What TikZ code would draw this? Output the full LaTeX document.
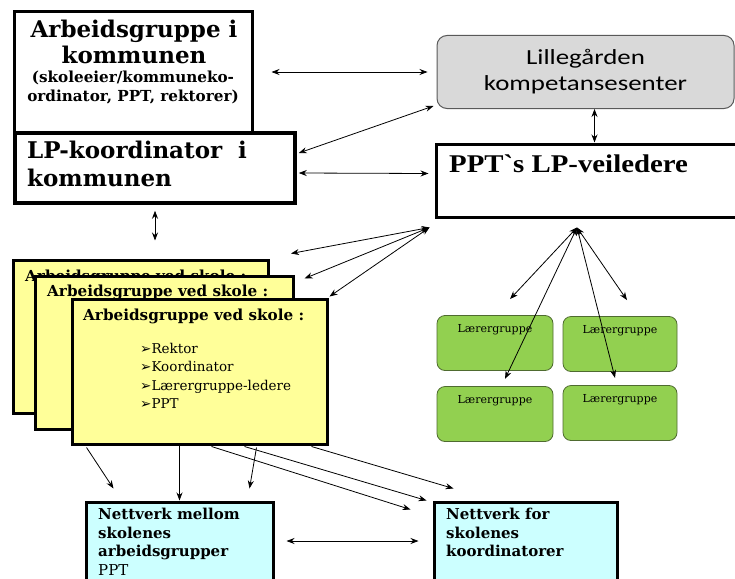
\documentclass[tikz,border=0pt]{standalone}
\usepackage{fontspec}
\setmainfont{DejaVu Serif}
\newfontfamily\timesfont{Liberation Serif}[FakeStretch=1.13]
\newfontfamily\calibrifont{Carlito}[FakeStretch=1.25]
\newfontfamily\symbolfont{DejaVu Sans}
\usepackage{xcolor}
\usetikzlibrary{shapes.geometric, arrows, arrows.meta, positioning, calc}

\definecolor{sentergray}{HTML}{D9D9D9}
\definecolor{sentergrayline}{HTML}{595959}
\definecolor{skoleyellow}{HTML}{FFFF99}
\definecolor{laerergreen}{HTML}{92D050}
\definecolor{laererline}{HTML}{4F6B30}
\definecolor{nettcyan}{HTML}{CCFFFF}

\begin{document}
\begin{tikzpicture}[x=1pt, y=-1pt]
    \tikzstyle{blackbox} = [rectangle, draw=black, line width=3pt, fill=white]
    \tikzstyle{senter} = [rectangle, rounded corners=10pt, draw=sentergrayline, line width=1pt, fill=sentergray, align=center, font=\calibrifont\fontsize{21.5}{26}\selectfont]
    \tikzstyle{skole} = [rectangle, draw=black, line width=3pt, fill=skoleyellow, minimum width=255, minimum height=153]
    \tikzstyle{laerer} = [rectangle, rounded corners=8pt, draw=laererline, line width=0.8pt, fill=laerergreen, minimum width=116, minimum height=55]
    \tikzstyle{nettverk} = [rectangle, draw=black, line width=3pt, fill=nettcyan, minimum width=187, minimum height=100]
    \tikzstyle{tekst} = [inner sep=0pt, align=left]
    \tikzstyle{arrow} = [line width=0.8pt, <->, >={Stealth[length=8pt,width=6pt]}]
    \tikzstyle{onearrow} = [line width=0.8pt, ->, >={Stealth[length=8pt,width=6pt]}]

    \clip (0,0) rectangle (735,578);
    \fill[white] (0,0) rectangle (735,578);

    % kommune
    \node[blackbox, minimum width=238, minimum height=120] (kommune) at (133,72) {};
    \node[tekst, align=center, anchor=north, font=\bfseries\fontsize{23}{26}\selectfont] (kommunetittel) at (134,20) {Arbeidsgruppe i\\kommunen};
    \node[tekst, align=center, anchor=north, font=\bfseries\fontsize{15.2}{18.5}\selectfont] (kommunesub) at (133,71) {(skoleeier/kommuneko-\\ordinator, PPT, rektorer)};

    \node[blackbox, line width=3.5pt, minimum width=280, minimum height=70] (lp) at (155,168) {};
    \node[tekst, anchor=north west, font=\bfseries\fontsize{23}{28}\selectfont] (lptekst) at (27,141) {LP-koordinator~~i\\kommunen};

    % hoyre side
    \node[senter, minimum width=297, minimum height=73] (lille) at (585.5,72) {Lillegården\\kompetansesenter};
    \node[blackbox, minimum width=310, minimum height=73] (ppt) at (591,180.5) {};
    \node[tekst, anchor=base west, font=\timesfont\bfseries\fontsize{25.5}{30}\selectfont] (ppttekst) at (449,172) {PPT`s LP-veiledere};

    % skolene
    \node[skole] (skole1) at (141,336.5) {};
    \node[tekst, anchor=base west, font=\bfseries\fontsize{15.2}{18}\selectfont] (skole1tittel) at (25,281) {Arbeidsgruppe ved skole :};
    \node[skole, minimum width=258] (skole2) at (164,352.5) {};
    \node[tekst, anchor=base west, font=\bfseries\fontsize{15.2}{18}\selectfont] (skole2tittel) at (47,296) {Arbeidsgruppe ved skole :};
    \node[skole, minimum height=145] (skole3) at (199.5,371.5) {};
    \node[tekst, anchor=base west, font=\bfseries\fontsize{15.2}{18}\selectfont] (skole3tittel) at (83,320) {Arbeidsgruppe ved skole :};
    \node[tekst, anchor=north west, font=\fontsize{13.5}{18.4}\selectfont] (skoleliste) at (140,343) {{\symbolfont ➢}Rektor\\{\symbolfont ➢}Koordinator\\{\symbolfont ➢}Lærergruppe-ledere\\{\symbolfont ➢}PPT};

    % laerergrupper
    \node[laerer] (laerera) at (495,343) {};
    \node[laerer, minimum width=114] (laererb) at (620,344) {};
    \node[laerer] (laererc) at (495,414) {};
    \node[laerer, minimum width=114] (laererd) at (620,413) {};
    \node[tekst, font=\fontsize{11}{12}\selectfont] (laereratekst) at ($(laerera.north)+(0,15)$) {Lærergruppe};
    \node[tekst, font=\fontsize{11}{12}\selectfont] (laererbtekst) at ($(laererb.north)+(0,15)$) {Lærergruppe};
    \node[tekst, font=\fontsize{11}{12}\selectfont] (laererctekst) at ($(laererc.north)+(0,15)$) {Lærergruppe};
    \node[tekst, font=\fontsize{11}{12}\selectfont] (laererdtekst) at ($(laererd.north)+(0,15)$) {Lærergruppe};

    % nettverk
    \node[nettverk] (nett1) at (179.5,552) {};
    \node[tekst, anchor=north west, font=\fontsize{15}{18.5}\selectfont] (nett1tekst) at (98,508) {\textbf{Nettverk mellom}\\\textbf{skolenes}\\\textbf{arbeidsgrupper}\\PPT};
    \node[nettverk, minimum width=183] (nett2) at (525.5,552) {};
    \node[tekst, anchor=north west, font=\bfseries\fontsize{15}{18.5}\selectfont] (nett2tekst) at (446,508) {Nettverk for\\skolenes\\koordinatorer};

    \coordinate (pptkrok) at ([shift={(-5,9)}]ppt.south west);
    \coordinate (vifte) at ([shift={(-14,9)}]ppt.south);

    % piler
    \draw[arrow] ([xshift=18]kommune.east) -- ([xshift=-9]lille.west);
    \draw[arrow] ([shift={(2,-15)}]lp.east) -- ([shift={(-3,-3)}]lille.south west);
    \draw[arrow] ([shift={(2,5)}]lp.east) -- ([shift={(-6,-7)}]ppt.west);
    \draw[arrow] ([xshift=9]lille.south) -- ($(lille.south |- ppt.north)+(9,0)$);
    \draw[arrow] ([shift={(0,6)}]lp.south) -- ($(lp.south |- skole1.north)+(0,-18)$);

    \draw[arrow] (pptkrok) -- ([shift={(21,-5)}]skole1.north east);
    \draw[arrow] (pptkrok) -- ([shift={(10,4)}]skole2.north east);
    \draw[arrow] (pptkrok) -- ([shift={(1,-1)}]skole3.north east);

    \draw[arrow] (vifte) -- ([shift={(15,-16)}]laerera.north);
    \draw[arrow] (vifte) -- ([shift={(7,-16)}]laererb.north);
    \draw[arrow] (vifte) -- ([shift={(10,8)}]laerera.south);
    \draw[arrow] (vifte) -- ([shift={(-5,6)}]laererb.south);

    \draw[onearrow] ([shift={(16,2)}]skole3.south west) -- ([shift={(29,-12)}]nett1.north west);
    \draw[onearrow] (skole3.south -| nett1.north) -- (nett1.north);
    \draw[onearrow] ([shift={(57,2)}]skole3.south) -- ([shift={(-25,-12)}]nett1.north east);
    \draw[onearrow] ([shift={(12,1)}]skole3.south) -- ([shift={(-22,9)}]nett2.north west);
    \draw[onearrow] ([shift={(45,1)}]skole3.south) -- ([shift={(-6,0)}]nett2.north west);
    \draw[onearrow] ([shift={(-17,1)}]skole3.south east) -- ([shift={(21,-12)}]nett2.north west);
    \draw[arrow] ([shift={(12,-11)}]nett1.east) -- ([shift={(-14,-11)}]nett2.west);
\end{tikzpicture}
\end{document}
